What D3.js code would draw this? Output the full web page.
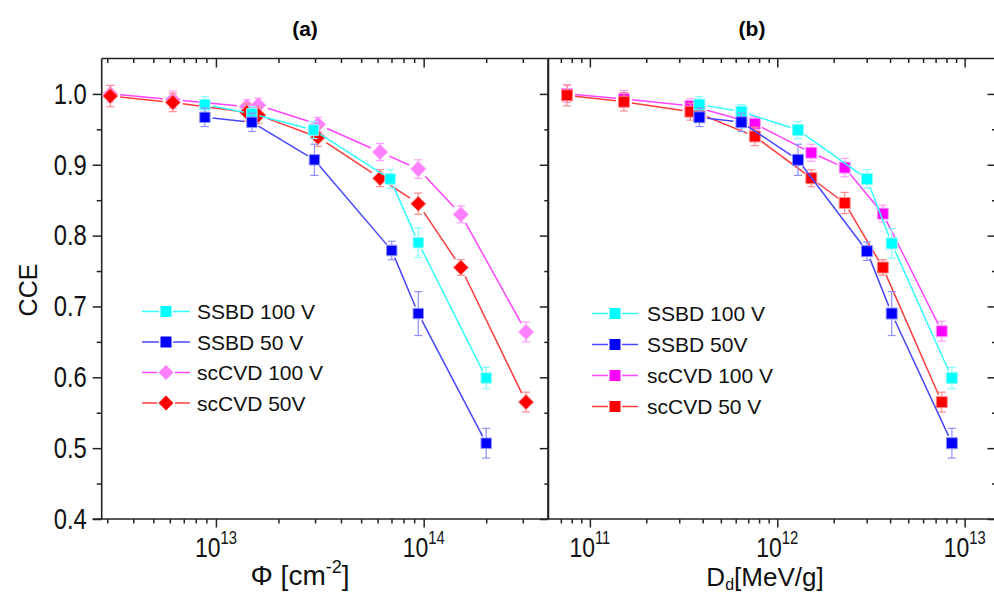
<!DOCTYPE html>
<html><head><meta charset="utf-8">
<script src="https://cdn.jsdelivr.net/npm/d3@7"></script>
<style>
body{margin:0;background:#fff;}
svg{display:block;}
text{font-family:"Liberation Sans",Arial,sans-serif;}
</style></head>
<body><svg id="c" width="994" height="594"></svg>
<script>
// ---------- Data ----------
const legendA = ["SSBD 100 V", "SSBD 50 V", "scCVD 100 V", "scCVD 50V"];
const legendB = ["SSBD 100 V", "SSBD 50V", "scCVD 100 V", "scCVD 50 V"];
const yTicks = [0.4, 0.5, 0.6, 0.7, 0.8, 0.9, 1.0];
const xTicksA = [1e13, 1e14];
const xTicksB = [1e11, 1e12, 1e13];

// Panel (a): fluence [cm^-2]
const ssbd100A_x = [8.85e12, 1.49e13, 2.95e13, 6.9e13, 9.42e13, 2.0e14];
const ssbd100A_y = [0.985, 0.972, 0.949, 0.880, 0.790, 0.599];
const ssbd100A_e = [0.011, 0.010, 0.012, 0.013, 0.021, 0.015];
const ssbd50A_x = [8.85e12, 1.49e13, 2.98e13, 7.02e13, 9.42e13, 2.0e14];
const ssbd50A_y = [0.967, 0.960, 0.907, 0.779, 0.690, 0.507];
const ssbd50A_e = [0.013, 0.013, 0.022, 0.013, 0.031, 0.021];
const sccvdA_x = [3.1e12, 6.2e12, 1.41e13, 1.6e13, 3.1e13, 6.17e13, 9.42e13, 1.51e14, 3.11e14];
const sccvd100A_y = [1.0, 0.992, 0.982, 0.984, 0.957, 0.918, 0.894, 0.830, 0.664];
const sccvd100A_e = [0.012, 0.012, 0.010, 0.010, 0.010, 0.012, 0.013, 0.012, 0.014];
const sccvd50A_y = [0.997, 0.988, 0.974, 0.970, 0.939, 0.881, 0.845, 0.755, 0.565];
const sccvd50A_e = [0.015, 0.013, 0.012, 0.012, 0.013, 0.012, 0.015, 0.011, 0.014];

// Panel (b): displacement damage dose [MeV/g]
const ssbdB_x = [3.84e11, 6.44e11, 1.29e12, 3.01e12, 4.08e12, 8.55e12];
const ssbd100B_y = [0.985, 0.975, 0.949, 0.880, 0.789, 0.599];
const ssbd100B_e = [0.011, 0.010, 0.012, 0.013, 0.021, 0.015];
const ssbd50B_y = [0.967, 0.960, 0.907, 0.778, 0.690, 0.507];
const ssbd50B_e = [0.013, 0.013, 0.022, 0.013, 0.031, 0.021];
const sccvdB_x = [7.55e10, 1.52e11, 3.44e11, 3.84e11, 7.59e11, 1.52e12, 2.29e12, 3.66e12, 7.55e12];
const sccvd100B_y = [1.0, 0.993, 0.983, 0.980, 0.958, 0.917, 0.896, 0.831, 0.665];
const sccvd100B_e = [0.012, 0.012, 0.010, 0.010, 0.010, 0.012, 0.013, 0.012, 0.014];
const sccvd50B_y = [0.998, 0.989, 0.975, 0.972, 0.940, 0.881, 0.846, 0.755, 0.565];
const sccvd50B_e = [0.015, 0.013, 0.012, 0.012, 0.013, 0.012, 0.015, 0.011, 0.014];

// ---------- Styles ----------
const sty = {
  ssbd100: {line: "#33ffff", err: "#88ffff", fill: "#00ffff", shape: "sq"},
  ssbd50:  {line: "#4646ff", err: "#9090ff", fill: "#0000ff", shape: "sq"},
  sccvd100a: {line: "#ff44ff", err: "#ff9cff", fill: "#ff80ff", shape: "dia"},
  sccvd50a:  {line: "#ff3c3c", err: "#ff8c8c", fill: "#ff0000", shape: "dia"},
  sccvd100b: {line: "#ff44ff", err: "#ff9cff", fill: "#ff00ff", shape: "sq"},
  sccvd50b:  {line: "#ff3c3c", err: "#ff8c8c", fill: "#ff0000", shape: "sq"}
};
const NARROW = 0.82;

const svg = d3.select("#c");
const plotTop = 58.5, plotBottom = 519;
const y = d3.scaleLinear().domain([0.4, 1.05]).range([plotBottom, plotTop]);

function zip(xs, ys, es){ return xs.map((v,i)=>({x:v, y:ys[i], e:es[i]})); }

function markerPath(shape, s){
  if(shape === "dia"){ const r = s; return `M0,${-r}L${r},0L0,${r}L${-r},0Z`; }
  const h = s; return `M${-h},${-h}H${h}V${h}H${-h}Z`;
}

function logTicks(dom){
  const majors = [], minors = [];
  const lo = Math.floor(Math.log10(dom[0])), hi = Math.ceil(Math.log10(dom[1]));
  for(let k=lo;k<=hi;k++){
    for(let m=1;m<10;m++){
      const v = m*Math.pow(10,k);
      if(v < dom[0]*1.001 || v > dom[1]*0.999) continue;
      (m===1 ? majors : minors).push(v);
    }
  }
  return {majors, minors};
}

function panel(x0, x1, dom, xMajorLabels, drawYLabels, series, legendNames, legendPos, rightFrame){
  const x = d3.scaleLog().domain(dom).range([x0, x1]);
  const g = svg.append("g");
  const t = logTicks(dom);
  const axes = g.append("g");
  axes.append("g").attr("transform",`translate(0,${plotBottom})`)
    .call(d3.axisBottom(x).tickValues(t.minors).tickSize(4.5).tickFormat(""));
  axes.append("g").attr("transform",`translate(0,${plotBottom})`)
    .call(d3.axisBottom(x).tickValues(t.majors).tickSize(8.5).tickFormat(""));
  axes.append("g").attr("transform",`translate(0,${plotTop})`)
    .call(d3.axisTop(x).tickValues(t.minors).tickSize(-4.5).tickFormat(""));
  axes.append("g").attr("transform",`translate(0,${plotTop})`)
    .call(d3.axisTop(x).tickValues(t.majors).tickSize(-9).tickFormat(""));
  axes.selectAll(".domain").remove();
  axes.append("line").attr("x1",x0-(drawYLabels?9:0)).attr("x2",x1).attr("y1",plotBottom).attr("y2",plotBottom);
  axes.append("line").attr("x1",x0).attr("x2",x1).attr("y1",plotTop).attr("y2",plotTop);
  axes.append("line").attr("x1",x0).attr("x2",x0).attr("y1",plotTop).attr("y2",plotBottom);
  axes.selectAll("line").attr("stroke","#222").attr("stroke-width",1.6);

  // x tick labels 10^n (condensed)
  xMajorLabels.forEach(v=>{
    const n = Math.round(Math.log10(v));
    const tx = axes.append("text").attr("x", x(v)/NARROW).attr("y", 557)
      .attr("transform",`scale(${NARROW},1)`)
      .attr("text-anchor","middle").attr("font-size",28).attr("fill","#111");
    tx.append("tspan").text("10");
    tx.append("tspan").attr("font-size",18).attr("dy",-13).text(String(n));
  });

  const yMinor = [0.45,0.55,0.65,0.75,0.85,0.95];
  if(drawYLabels){
    const ya = axes.append("g").attr("transform",`translate(${x0},0)`);
    ya.call(d3.axisLeft(y).tickValues(yMinor).tickSize(5).tickFormat(""));
    const yb = axes.append("g").attr("transform",`translate(${x0},0)`);
    yb.call(d3.axisLeft(y).tickValues(yTicks).tickSize(9).tickFormat(d3.format(".1f")).tickPadding(6));
    [ya,yb].forEach(a=>{a.select(".domain").remove();});
    yb.attr("font-family",null).attr("font-size",null);
    yb.selectAll("text").attr("font-size",29).attr("fill","#111")
      .attr("x", -15/NARROW).attr("transform",`scale(${NARROW},1)`);
  }
  const ra = axes.append("g").attr("transform",`translate(${rightFrame},0)`);
  ra.call(d3.axisLeft(y).tickValues(yMinor).tickSize(4).tickFormat(""));
  const rb = axes.append("g").attr("transform",`translate(${rightFrame},0)`);
  rb.call(d3.axisLeft(y).tickValues(yTicks).tickSize(8.5).tickFormat(""));
  [ra,rb].forEach(a=>{
    a.select(".domain").attr("stroke","#222").attr("stroke-width",1.6).attr("d",`M0,${plotTop}V${plotBottom}`);});
  axes.selectAll(".tick line").attr("stroke","#222").attr("stroke-width",1.5);

  series.forEach(s=>{
    const st = s.style;
    const pts = s.data.map(d=>({px:x(d.x), py:y(d.y), d}));
    const gap = s.size+2.5;
    const sg = g.append("g");
    for(let i=0;i<pts.length-1;i++){
      const a=pts[i], b=pts[i+1];
      const dx=b.px-a.px, dy=b.py-a.py, L=Math.hypot(dx,dy);
      if(L <= 2*gap) continue;
      const ux=dx/L, uy=dy/L;
      sg.append("line").attr("x1",a.px+ux*gap).attr("y1",a.py+uy*gap)
        .attr("x2",b.px-ux*gap).attr("y2",b.py-uy*gap)
        .attr("stroke",st.line).attr("stroke-width",1.5);
    }
    s.data.forEach(d=>{
      const px=x(d.x), y1=y(d.y+d.e), y2=y(d.y-d.e);
      sg.append("line").attr("x1",px).attr("x2",px).attr("y1",y1).attr("y2",y2).attr("stroke",st.err).attr("stroke-width",1.2);
      [y1,y2].forEach(yy=>sg.append("line").attr("x1",px-4).attr("x2",px+4).attr("y1",yy).attr("y2",yy).attr("stroke",st.err).attr("stroke-width",1.2));
    });
    pts.forEach(p=>{
      sg.append("path").attr("d",markerPath(st.shape, s.size))
        .attr("transform",`translate(${p.px},${p.py})`)
        .attr("fill",st.fill).attr("stroke",st.err).attr("stroke-width",1);
    });
  });

  const lg = g.append("g");
  legendPos.order.forEach((si,i)=>{
    const st = series[si].style;
    const ly = legendPos.y + i*legendPos.dy;
    const mx = (legendPos.x0+legendPos.x1)/2;
    const gp = st.shape==="dia" ? 9 : 7;
    lg.append("line").attr("x1",legendPos.x0).attr("x2",mx-gp).attr("y1",ly).attr("y2",ly).attr("stroke",st.line).attr("stroke-width",1.5);
    lg.append("line").attr("x1",mx+gp).attr("x2",legendPos.x1).attr("y1",ly).attr("y2",ly).attr("stroke",st.line).attr("stroke-width",1.5);
    lg.append("path").attr("d",markerPath(st.shape, st.shape==="dia"?7.5:5.5)).attr("transform",`translate(${mx},${ly})`)
      .attr("fill",st.fill);
    lg.append("text").attr("x",legendPos.tx).attr("y",ly).attr("dy","0.36em")
      .attr("font-size",21).attr("fill","#111")
      .text(legendNames[i]);
  });
  return x;
}

panel(101.7, 548.3, [2.82e12, 3.98e14], xTicksA, true, [
  {data: zip(sccvdA_x, sccvd100A_y, sccvd100A_e), style: sty.sccvd100a, size: 7.5},
  {data: zip(sccvdA_x, sccvd50A_y, sccvd50A_e), style: sty.sccvd50a, size: 7.5},
  {data: zip(ssbd100A_x, ssbd100A_y, ssbd100A_e), style: sty.ssbd100, size: 5.2},
  {data: zip(ssbd50A_x, ssbd50A_y, ssbd50A_e), style: sty.ssbd50, size: 5.2}
], legendA, {x0:142, x1:190, tx:197, y:311.5, dy:30.5, order:[2,3,0,1]}, 548.3);

panel(548.3, 996, [6.0e10, 1.47e13], xTicksB, false, [
  {data: zip(sccvdB_x, sccvd100B_y, sccvd100B_e), style: sty.sccvd100b, size: 5.5},
  {data: zip(sccvdB_x, sccvd50B_y, sccvd50B_e), style: sty.sccvd50b, size: 5.5},
  {data: zip(ssbdB_x, ssbd100B_y, ssbd100B_e), style: sty.ssbd100, size: 5.5},
  {data: zip(ssbdB_x, ssbd50B_y, ssbd50B_e), style: sty.ssbd50, size: 5.5}
], legendB, {x0:592, x1:638, tx:647, y:313.5, dy:31, order:[2,3,0,1]}, 996);

svg.append("text").attr("x",305).attr("y",36).attr("text-anchor","middle")
  .attr("font-weight","bold").attr("font-size",21).text("(a)");
svg.append("text").attr("x",752).attr("y",36).attr("text-anchor","middle")
  .attr("font-weight","bold").attr("font-size",21).text("(b)");
svg.append("text").attr("transform","translate(37,290) rotate(-90)")
  .attr("text-anchor","middle").attr("font-size",25).attr("fill","#111").text("CCE");
const xl = svg.append("text").attr("x",300).attr("y",585)
  .attr("text-anchor","middle").attr("font-size",28).attr("fill","#111");
xl.append("tspan").text("Φ [cm");
xl.append("tspan").attr("font-size",18).attr("dy",-12).text("-2");
xl.append("tspan").attr("dy",12).text("]");
const xl2 = svg.append("text").attr("x",765).attr("y",586)
  .attr("text-anchor","middle").attr("font-size",26).attr("fill","#111");
xl2.append("tspan").text("D");
xl2.append("tspan").attr("font-size",16).attr("dy",4).text("d");
xl2.append("tspan").attr("dy",-4).text("[MeV/g]");
</script>
</body></html>
